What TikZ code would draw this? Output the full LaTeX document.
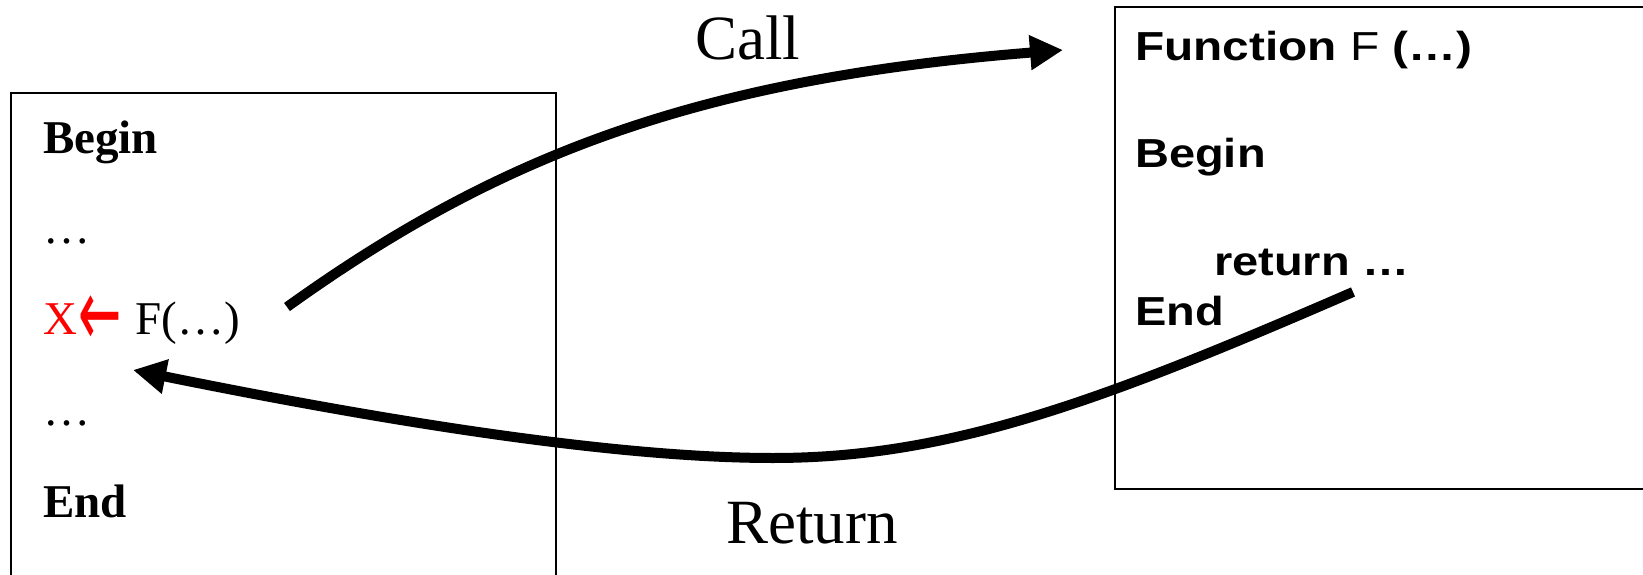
\documentclass[tikz,border=0pt]{standalone}
\usepackage{graphicx}
\usepackage{fontspec}
\setmainfont{Liberation Serif}
\newfontfamily\arialfont{Liberation Sans}
\newfontfamily\dejavufont{DejaVu Sans}
\usetikzlibrary{arrows.meta}
\begin{document}
\begin{tikzpicture}[x=1pt,y=1pt,
  box/.style={draw=black, line width=1.5pt},
  flow/.style={line width=10pt, -{Triangle[length=33pt,width=33pt]}},
  lt/.style={anchor=base west, inner sep=0pt, font=\fontsize{47}{50}\selectfont},
  rt/.style={anchor=base west, inner sep=0pt, font=\arialfont\fontsize{40.5}{44}\selectfont},
  big/.style={anchor=base west, inner sep=0pt, font=\fontsize{63}{66}\selectfont}]
\useasboundingbox (0,0) rectangle (1643,574);
\clip (0,0) rectangle (1643,574);
% boxes
\draw[box] (11,-20) rectangle (556,481);
\draw[box] (1115,85) rectangle (1700,567);
% caller text
\node[lt] (lcall) at (43,240) {\textcolor{red}{X\hspace{1pt}\raisebox{-12pt}{\scalebox{1.1}[2.05]{\dejavufont ←}}}\hspace{14pt}F(…)};
\node[lt] (lbegin) at (43,420) {\textbf{Begin}};
\node[lt] (ldots1) at (43,331) {…};
\node[lt] (ldots2) at (43,149) {…};
\node[lt] (lend) at (43,57) {\textbf{End}};
% function text
\node[rt] (fhead) at (1135,513) {\resizebox{337pt}{\height}{\textbf{Function} F \textbf{(…)}}};
\node[rt] (fbegin) at (1135,406) {\scalebox{1.16}[1]{\textbf{Begin}}};
\node[rt] (fret) at (1214,299) {\scalebox{1.16}[1]{\textbf{return …}}};
\node[rt] (fend) at (1135,249) {\scalebox{1.16}[1]{\textbf{End}}};
% labels
\node[big] (call) at (695,514) {Call};
\node[big] (ret) at (726,31) {Return};
% connectors
\coordinate (cs) at (287,267);
\coordinate (ce) at (1063,524);
\coordinate (rs) at (1353,282);
\coordinate (rm) at (773,116);
\coordinate (re) at (133,204);
\draw[flow] (cs) .. controls (500,420) and (700,495) .. (ce);
\draw[flow] (rs) .. controls (1102,173) and (950,116) .. (rm)
             .. controls (600,116) and (350,160) .. (re);
\end{tikzpicture}
\end{document}
